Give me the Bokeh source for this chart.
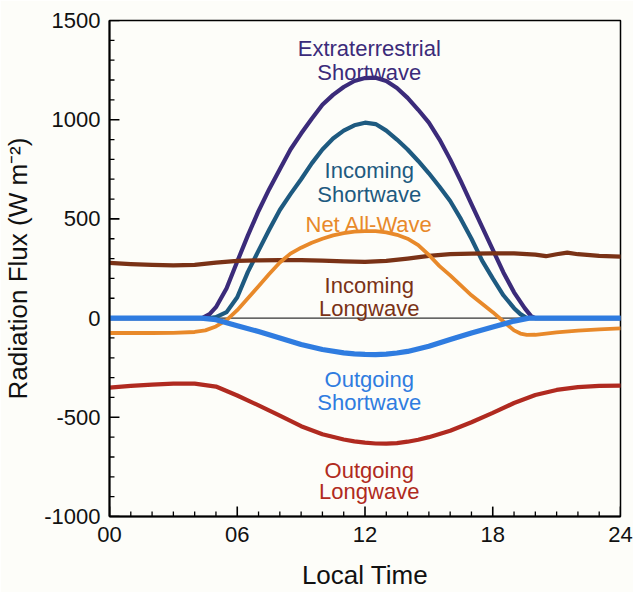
from bokeh.plotting import figure
from bokeh.models import FixedTicker, Span, ColumnDataSource, Range1d
from bokeh.core.properties import value
from bokeh.embed import file_html
from bokeh.resources import INLINE

# ---- data ----
x_ticks = [0, 6, 12, 18, 24]
x_tick_labels = ["00", "06", "12", "18", "24"]
x_minor = list(range(0, 25))
y_ticks = [-1000, -500, 0, 500, 1000, 1500]
y_tick_labels = ["-1000", "-500", "0", "500", "1000", "1500"]
y_minor = list(range(-1000, 1501, 100))

t_ext = [0, 1, 2, 3, 4, 4.35, 4.7, 5.0, 5.5, 6.0, 6.5, 7.0, 7.5, 8.0, 8.5, 9.0, 9.5, 10.0,
         10.5, 11.0, 11.5, 12.0, 12.5, 13.0, 13.5, 14.0, 14.5, 15.0, 15.5, 16.0, 16.5, 17.0,
         17.5, 18.0, 18.5, 19.0, 19.5, 19.8, 20, 21, 22, 23, 24]
v_ext = [0, 0, 0, 0, 0, 0, 20, 55, 150, 285, 417, 540, 650, 750, 850, 930, 1005, 1075,
         1125, 1165, 1195, 1210, 1212, 1195, 1160, 1110, 1050, 985, 900, 800, 690, 575,
         460, 345, 230, 130, 50, 10, 0, 0, 0, 0, 0]

t_isw = [0, 1, 2, 3, 4, 4.7, 5.0, 5.5, 6.0, 6.5, 7.0, 7.5, 8.0, 8.5, 9.0, 9.5, 10.0, 10.5,
         11.0, 11.5, 12.0, 12.5, 13.0, 13.5, 14.0, 14.5, 15.0, 15.5, 16.0, 16.5, 17.0, 17.5,
         18.0, 18.5, 19.0, 19.3, 19.6, 20, 21, 22, 23, 24]
v_isw = [0, 0, 0, 0, 0, 0, 5, 30, 105, 233, 340, 445, 545, 625, 700, 780, 850, 905,
         945, 972, 985, 978, 945, 900, 850, 792, 730, 662, 590, 500, 400, 290,
         200, 115, 50, 20, 0, 0, 0, 0, 0, 0]

t_net = [0, 1, 2, 3, 4, 4.5, 5, 5.5, 6, 6.5, 7, 7.5, 8, 8.5, 9, 9.5, 10, 10.5, 11, 11.5,
         12, 12.5, 13, 13.5, 14, 14.5, 15, 15.5, 16, 16.5, 17, 17.5, 18, 18.5, 19, 19.3,
         19.6, 20, 21, 22, 23, 24]
v_net = [-75, -75, -75, -74, -70, -62, -42, -10, 40, 100, 160, 222, 280, 325, 355, 380,
         400, 417, 428, 436, 438, 438, 432, 420, 400, 368, 318, 262, 215, 165, 115, 72,
         30, -17, -62, -78, -85, -84, -72, -63, -57, -52]

t_ilw = [0, 1, 2, 3, 4, 5, 6, 7, 8, 9, 10, 11, 12, 13, 14, 15, 16, 17, 18, 19, 20, 20.5,
         21, 21.5, 22, 23, 24]
v_ilw = [278, 272, 268, 266, 268, 280, 288, 291, 292, 292, 290, 286, 283, 288, 300, 314,
         322, 325, 326, 326, 320, 312, 322, 330, 322, 314, 310]

t_osw = [0, 1, 2, 3, 4, 4.3, 5, 6, 7, 8, 9, 10, 11, 11.5, 12, 12.5, 13, 13.5, 14, 15, 16,
         17, 18, 19, 19.7, 20, 21, 22, 23, 24]
v_osw = [0, 0, 0, 0, 0, 0, -8, -38, -68, -100, -133, -158, -175, -180, -183, -184, -182,
         -176, -168, -142, -108, -75, -45, -15, 0, 0, 0, 0, 0, 0]

t_olw = [0, 1, 2, 3, 4, 5, 6, 7, 8, 9, 10, 11, 11.5, 12, 12.5, 13, 13.5, 14, 14.5, 15, 16,
         17, 18, 19, 20, 21, 22, 23, 24]
v_olw = [-350, -342, -335, -330, -330, -345, -390, -440, -492, -545, -585, -612, -621,
         -628, -632, -633, -630, -623, -613, -600, -568, -525, -478, -428, -388, -362,
         -348, -342, -340]

label_text = ["Extraterrestrial", "Shortwave", "Incoming", "Shortwave", "Net All-Wave",
              "Incoming", "Longwave", "Outgoing", "Shortwave", "Outgoing", "Longwave"]
label_x = [12.2] * 11
label_y = [1360, 1240, 742, 625, 470, 165, 47, -308, -425, -770, -875]

c_ext = "#3b2b7a"
c_isw = "#1e5a80"
c_net = "#e8892a"
c_ilw = "#7a3216"
c_osw = "#2f7ce0"
c_olw = "#b02a20"
label_color = [c_ext, c_ext, c_isw, c_isw, c_net, c_ilw, c_ilw, c_osw, c_osw, c_olw, c_olw]

FONT = "Liberation Sans"
BG = "#fdfdf9"

X0, X1 = 0, 24
Y0, Y1 = -1000, 1500
FW, FH = 513, 501          # frame size in px
xu = (X1 - X0) / FW        # data units per px
yu = (Y1 - Y0) / FH

p = figure(width=633, height=592, output_backend="svg", toolbar_location=None,
           x_range=Range1d(X0, X1), y_range=Range1d(Y0, Y1),
           min_border_left=107, min_border_right=13, min_border_top=20,
           min_border_bottom=71)
p.background_fill_color = BG
p.border_fill_color = BG
p.xgrid.visible = False
p.ygrid.visible = False
p.outline_line_color = "black"
p.outline_line_width = 1.5

p.xaxis.ticker = FixedTicker(ticks=x_ticks, minor_ticks=x_minor)
p.xaxis.major_label_overrides = dict(zip(x_ticks, x_tick_labels))
p.yaxis.ticker = FixedTicker(ticks=y_ticks, minor_ticks=y_minor)
p.yaxis.major_label_overrides = dict(zip(y_ticks, y_tick_labels))

for ax in (p.xaxis[0], p.yaxis[0]):
    ax.axis_line_width = 2
    ax.axis_line_color = "black"
    ax.major_tick_in = 0
    ax.major_tick_out = 0
    ax.minor_tick_in = 0
    ax.minor_tick_out = 0
    ax.major_label_text_font = FONT
    ax.major_label_text_font_size = "22px"
    ax.major_label_text_color = "#111111"
    ax.axis_label_text_font = FONT
    ax.axis_label_text_font_size = "26px"
    ax.axis_label_text_font_style = "normal"
    ax.axis_label_text_color = "#111111"

p.xaxis.axis_label = "Local Time"
p.yaxis.axis_label = "Radiation Flux (W m\u207b\u00b2)"
p.xaxis.major_label_standoff = 10
p.xaxis.axis_label_standoff = 15
p.yaxis.major_label_standoff = 9
p.yaxis.axis_label_standoff = 8

# inward ticks drawn from the tick lists
MAJ, MIN = 10, 5  # px
xt_minor = [t for t in x_minor if t not in x_ticks]
p.segment(x0=x_ticks, y0=[Y0] * len(x_ticks), x1=x_ticks,
          y1=[Y0 + MAJ * yu] * len(x_ticks), line_color="black", line_width=1.6)
p.segment(x0=xt_minor, y0=[Y0] * len(xt_minor), x1=xt_minor,
          y1=[Y0 + MIN * yu] * len(xt_minor), line_color="black", line_width=1.3)
yt_minor = [v for v in y_minor if v not in y_ticks]
p.segment(x0=[X0] * len(y_ticks), y0=y_ticks, x1=[X0 + MAJ * xu] * len(y_ticks),
          y1=y_ticks, line_color="black", line_width=1.6)
p.segment(x0=[X0] * len(yt_minor), y0=yt_minor, x1=[X0 + MIN * xu] * len(yt_minor),
          y1=yt_minor, line_color="black", line_width=1.3)

p.add_layout(Span(location=0, dimension="width", line_color="#333333", line_width=1.2,
                  level="underlay"))

kw = dict(line_join="round", line_cap="round")
p.line(t_ext, v_ext, line_color=c_ext, line_width=4.2, **kw)
p.line(t_isw, v_isw, line_color=c_isw, line_width=4.2, **kw)
p.line(t_ilw, v_ilw, line_color=c_ilw, line_width=4.2, **kw)
p.line(t_net, v_net, line_color=c_net, line_width=3.8, **kw)
p.line(t_olw, v_olw, line_color=c_olw, line_width=4.2, **kw)
p.line(t_osw, v_osw, line_color=c_osw, line_width=5.2, **kw)

src = ColumnDataSource(dict(x=label_x, y=label_y, text=label_text, color=label_color))
p.text(x="x", y="y", text="text", text_color="color", source=src,
       text_align="center", text_baseline="alphabetic",
       text_font=value(FONT), text_font_size="22px")

open("out.html", "w").write(file_html(p, INLINE))
